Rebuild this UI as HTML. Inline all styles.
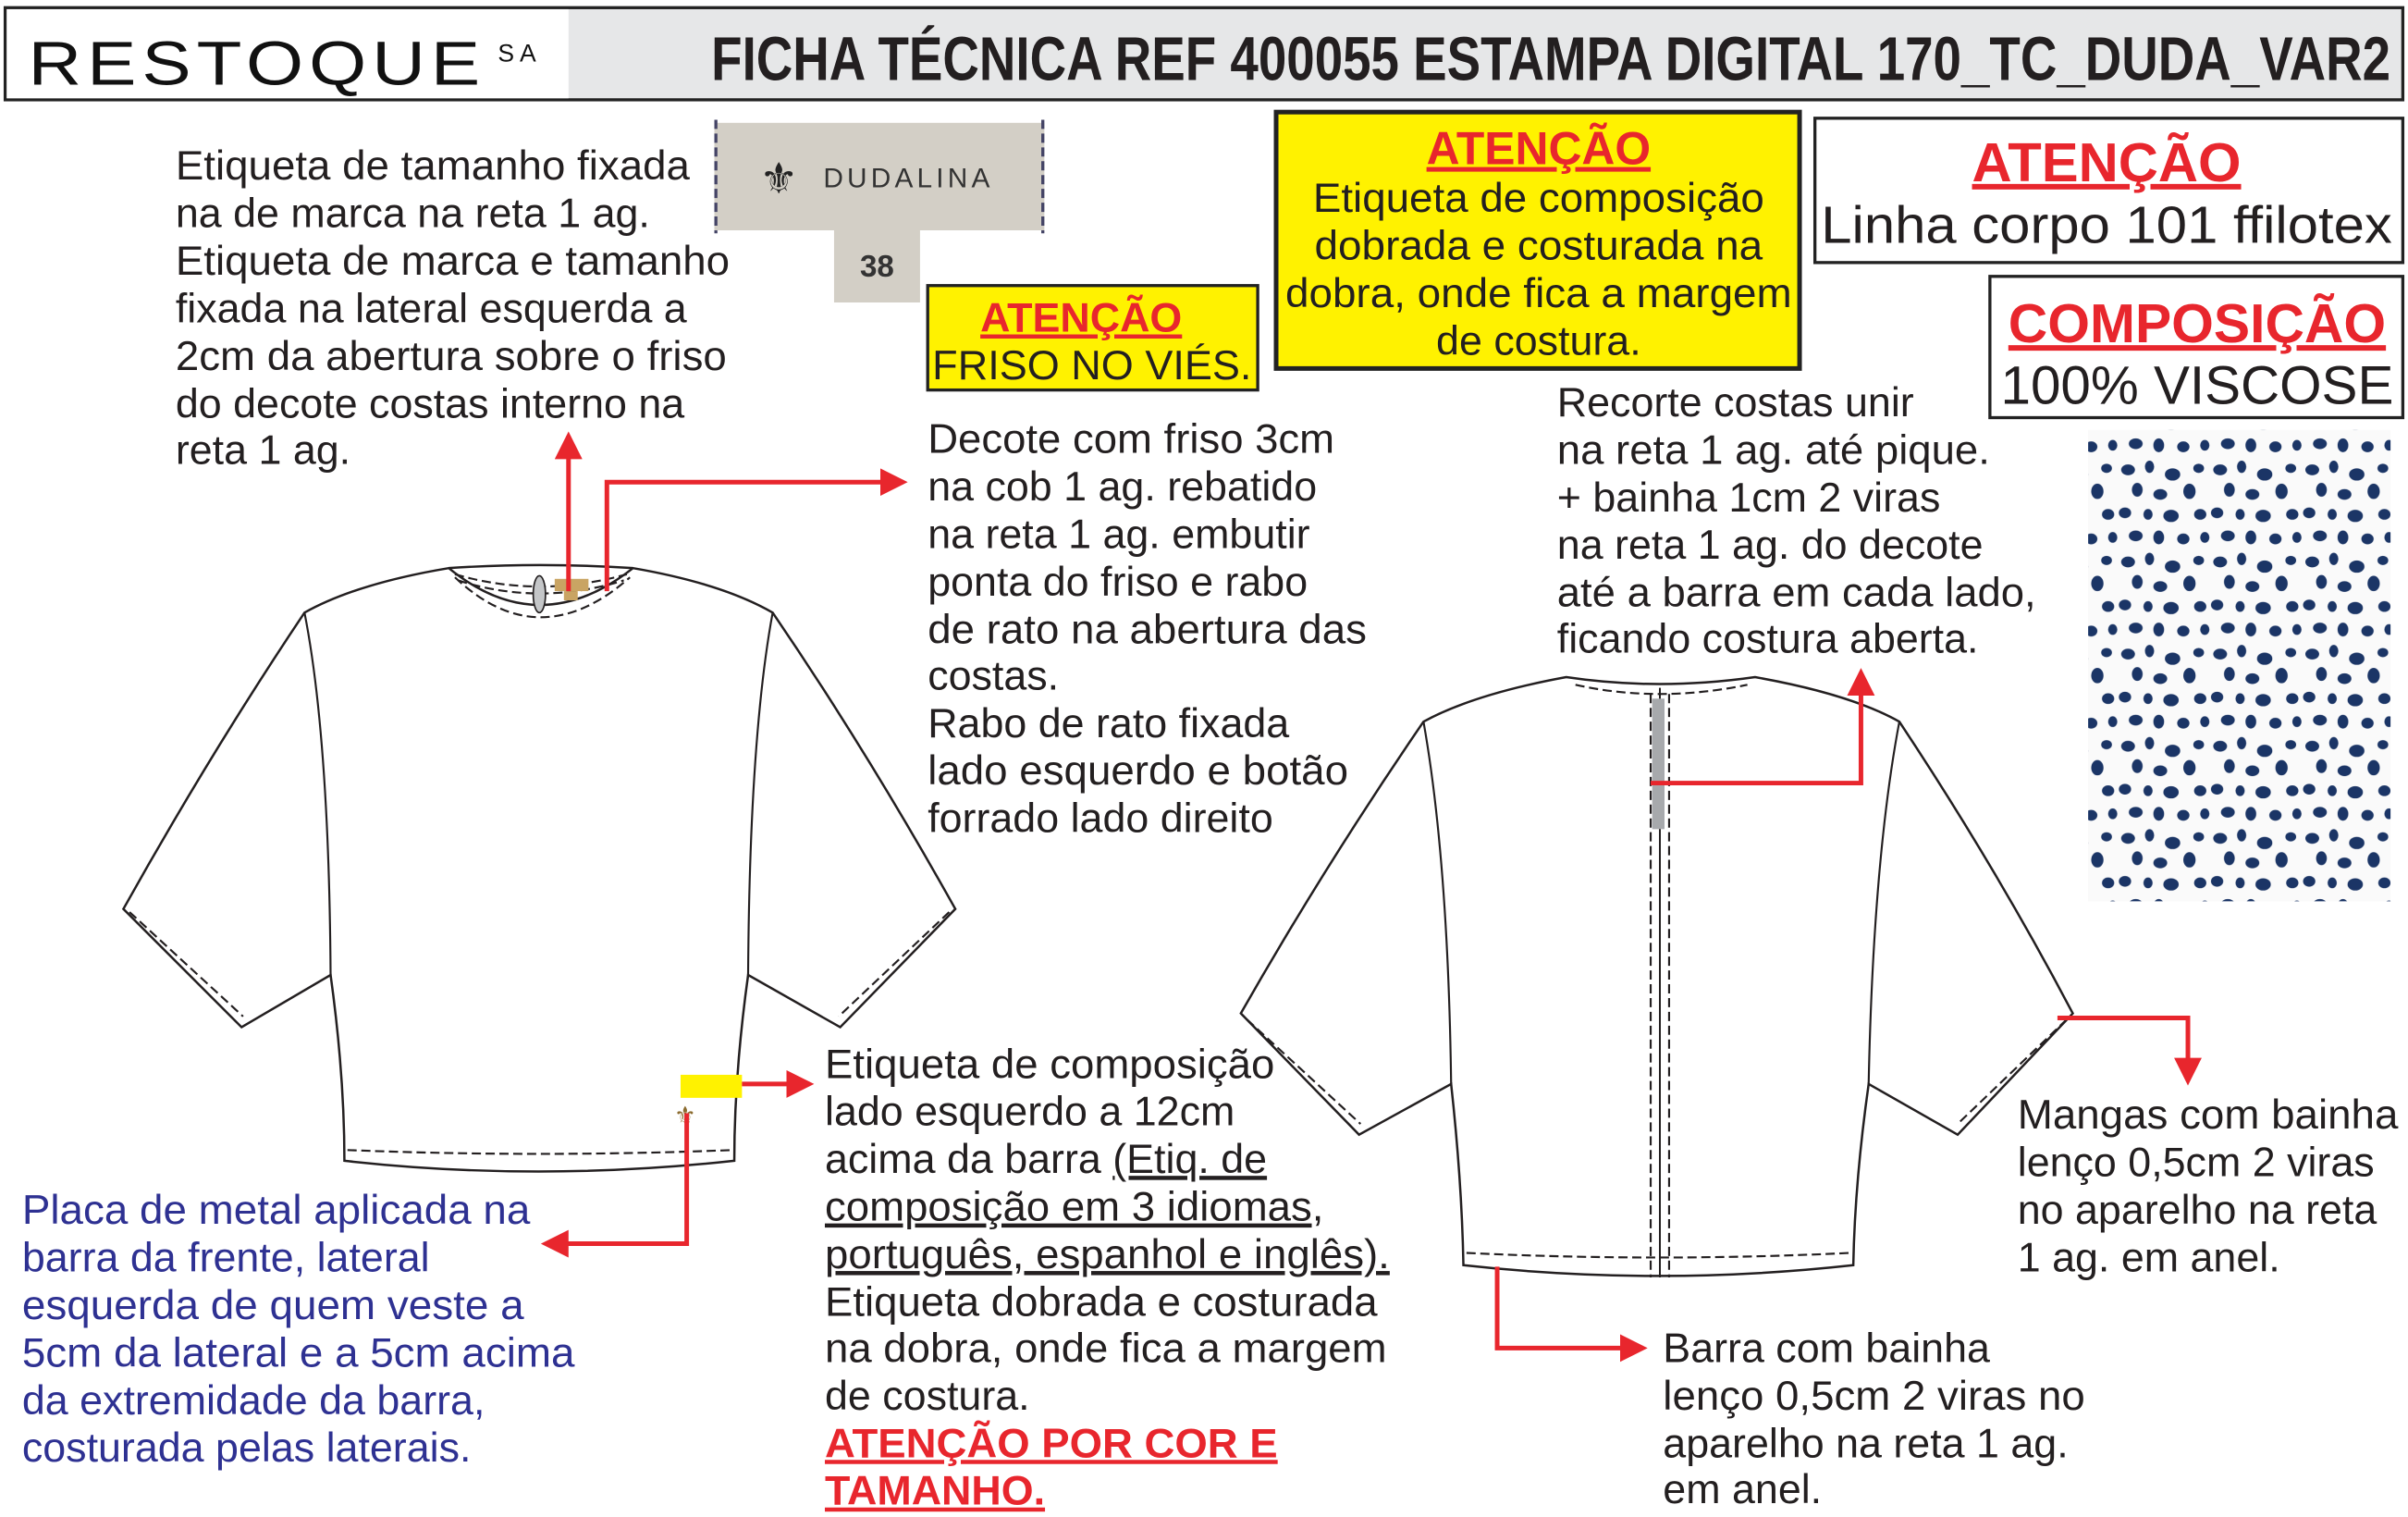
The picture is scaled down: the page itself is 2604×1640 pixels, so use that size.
<!DOCTYPE html>
<html><head><meta charset="utf-8"><style>
html,body{margin:0;padding:0;background:#fff;}
svg{display:block;}
text{font-family:"Liberation Sans",Arial,sans-serif;}
</style></head><body>
<svg width="2604" height="1640" viewBox="0 0 1568 988" xmlns="http://www.w3.org/2000/svg">
<defs>
<pattern id="dots" x="0" y="0" width="60" height="60" patternUnits="userSpaceOnUse">
<rect width="60" height="60" fill="#fafafa"/>
<g fill="#1b3566">
<ellipse cx="6" cy="6" rx="4.5" ry="3.5"/><ellipse cx="20" cy="4" rx="3" ry="4"/><ellipse cx="35" cy="9" rx="5" ry="4"/><ellipse cx="52" cy="5" rx="3.5" ry="3"/>
<ellipse cx="12" cy="19" rx="3.5" ry="4.5"/><ellipse cx="27" cy="22" rx="4.5" ry="3.5"/><ellipse cx="46" cy="20" rx="4" ry="5"/>
<ellipse cx="4" cy="34" rx="4" ry="3.5"/><ellipse cx="19" cy="35" rx="3" ry="3.5"/><ellipse cx="34" cy="36" rx="5" ry="4"/><ellipse cx="53" cy="35" rx="4" ry="3.5"/>
<ellipse cx="11" cy="49" rx="4.5" ry="3.5"/><ellipse cx="26" cy="50" rx="3.5" ry="4.5"/><ellipse cx="42" cy="51" rx="4" ry="3.5"/><ellipse cx="56" cy="50" rx="3" ry="3.5"/>
</g></pattern>
<marker id="ah" markerWidth="6" markerHeight="6" refX="5" refY="3" orient="auto" markerUnits="strokeWidth"><path d="M0,0 L6,3 L0,6 z" fill="#e8262d"/></marker>
</defs>

<!-- header -->
<rect x="3" y="5" width="1562" height="60" fill="#e6e7e8" stroke="#222" stroke-width="2"/>
<rect x="4" y="6" width="366" height="58" fill="#fff"/>
<text x="18" y="55" font-size="40" fill="#111" letter-spacing="3" textLength="298" lengthAdjust="spacingAndGlyphs">RESTOQUE</text>
<text x="324" y="40" font-size="16" fill="#111">S A</text>
<text x="463" y="52" font-size="40" font-weight="bold" fill="#231f20" textLength="1094" lengthAdjust="spacingAndGlyphs">FICHA TÉCNICA REF 400055 ESTAMPA DIGITAL 170_TC_DUDA_VAR2</text>

<!-- left text -->
<g font-size="27" fill="#231f20">
<text x="114" y="117" textLength="335" lengthAdjust="spacingAndGlyphs">Etiqueta de tamanho fixada</text>
<text x="114" y="148">na de marca na reta 1 ag.</text>
<text x="114" y="179" textLength="361" lengthAdjust="spacingAndGlyphs">Etiqueta de marca e tamanho</text>
<text x="114" y="210">fixada na lateral esquerda a</text>
<text x="114" y="241" textLength="359" lengthAdjust="spacingAndGlyphs">2cm da abertura sobre o friso</text>
<text x="114" y="272">do decote costas interno na</text>
<text x="114" y="302">reta 1 ag.</text>
</g>

<!-- dudalina label -->
<rect x="465" y="80" width="215" height="70" fill="#d3cfc6"/>
<line x1="466" y1="78" x2="466" y2="152" stroke="#444466" stroke-width="2" stroke-dasharray="6,3"/>
<line x1="679" y1="78" x2="679" y2="152" stroke="#444466" stroke-width="2" stroke-dasharray="6,3"/>
<text x="507" y="126" font-size="28" fill="#222" text-anchor="middle">⚜</text>
<text x="536" y="122" font-size="18" fill="#333" font-family="Liberation Serif,serif" letter-spacing="2.5">DUDALINA</text>
<rect x="543" y="150" width="56" height="47" fill="#d3cfc6"/>
<text x="571" y="180" font-size="20" font-weight="bold" fill="#333" text-anchor="middle">38</text>

<!-- friso box -->
<rect x="604" y="186" width="215" height="68" fill="#fff200" stroke="#222" stroke-width="2"/>
<text x="704" y="216" font-size="27" font-weight="bold" fill="#e8262d" text-anchor="middle" text-decoration="underline">ATENÇÃO</text>
<text x="711" y="247" font-size="27" fill="#231f20" text-anchor="middle" textLength="208" lengthAdjust="spacingAndGlyphs">FRISO NO VIÉS.</text>

<!-- yellow atencao -->
<rect x="831" y="73" width="341" height="167" fill="#fff200" stroke="#222" stroke-width="3"/>
<text x="1002" y="107" font-size="30" font-weight="bold" fill="#e8262d" text-anchor="middle" text-decoration="underline">ATENÇÃO</text>
<g font-size="27" fill="#231f20" text-anchor="middle">
<text x="1002" y="138" textLength="294" lengthAdjust="spacingAndGlyphs">Etiqueta de composição</text>
<text x="1002" y="169" textLength="292" lengthAdjust="spacingAndGlyphs">dobrada e costurada na</text>
<text x="1002" y="200" textLength="330" lengthAdjust="spacingAndGlyphs">dobra, onde fica a margem</text>
<text x="1002" y="231">de costura.</text>
</g>

<!-- white atencao -->
<rect x="1182" y="77" width="383" height="94" fill="#fff" stroke="#222" stroke-width="2"/>
<text x="1372" y="118" font-size="36" font-weight="bold" fill="#e8262d" text-anchor="middle" text-decoration="underline">ATENÇÃO</text>
<text x="1372" y="158" font-size="34" fill="#231f20" text-anchor="middle" textLength="372" lengthAdjust="spacingAndGlyphs">Linha corpo 101 ffilotex</text>

<!-- composicao -->
<rect x="1296" y="180" width="269" height="92" fill="#fff" stroke="#222" stroke-width="2"/>
<text x="1431" y="223" font-size="36" font-weight="bold" fill="#e8262d" text-anchor="middle" text-decoration="underline" textLength="246" lengthAdjust="spacingAndGlyphs">COMPOSIÇÃO</text>
<text x="1431" y="263" font-size="35" fill="#231f20" text-anchor="middle" textLength="256" lengthAdjust="spacingAndGlyphs">100% VISCOSE</text>

<rect x="1360" y="280" width="197" height="307" fill="url(#dots)"/>

<!-- decote text -->
<g font-size="27" fill="#231f20">
<text x="604" y="295" textLength="265" lengthAdjust="spacingAndGlyphs">Decote com friso 3cm</text>
<text x="604" y="326">na cob 1 ag. rebatido</text>
<text x="604" y="357">na reta 1 ag. embutir</text>
<text x="604" y="388">ponta do friso e rabo</text>
<text x="604" y="419" textLength="286" lengthAdjust="spacingAndGlyphs">de rato na abertura das</text>
<text x="604" y="449">costas.</text>
<text x="604" y="480">Rabo de rato fixada</text>
<text x="604" y="511" textLength="274" lengthAdjust="spacingAndGlyphs">lado esquerdo e botão</text>
<text x="604" y="542">forrado lado direito</text>
</g>

<!-- recorte text -->
<g font-size="27" fill="#231f20">
<text x="1014" y="271">Recorte costas unir</text>
<text x="1014" y="302" textLength="282" lengthAdjust="spacingAndGlyphs">na reta 1 ag. até pique.</text>
<text x="1014" y="333">+ bainha 1cm 2 viras</text>
<text x="1014" y="364">na reta 1 ag. do decote</text>
<text x="1014" y="395" textLength="312" lengthAdjust="spacingAndGlyphs">até a barra em cada lado,</text>
<text x="1014" y="425">ficando costura aberta.</text>
</g>

<!-- front garment -->
<g fill="#fff" stroke="#231f20" stroke-width="1.5">
<path d="M292,370 Q351,366 412,370 Q470,380 503,399 Q565,490 622,592 L547,669 L487,635 Q478,700 478,756 Q350,770 224,756 Q224,700 215,635 L157,669 L80,592 Q137,490 198,399 Q232,380 292,370 Z"/>
<path d="M292,370 Q351,418 412,370" fill="none"/>
</g>
<path d="M198,399 Q214,480 215,635" fill="none" stroke="#231f20" stroke-width="1.3"/>
<path d="M503,399 Q488,480 487,635" fill="none" stroke="#231f20" stroke-width="1.3"/>
<g fill="none" stroke="#231f20" stroke-width="1.3" stroke-dasharray="6,3">
<path d="M296,374 Q351,390 408,374"/>
<path d="M298,378 Q351,395 406,378"/>
<path d="M296,376 Q351,428 410,376"/>
<path d="M84,594 L158,662"/>
<path d="M618,594 L546,662"/>
<path d="M226,749 Q350,754 477,749"/>
</g>
<ellipse cx="351" cy="387" rx="4" ry="12" fill="#c4c6c8" stroke="#231f20" stroke-width="1"/>
<rect x="361" y="377" width="22" height="8" fill="#c9a463"/><rect x="367" y="385" width="9" height="6" fill="#c9a463"/>
<rect x="443" y="700" width="40" height="15" fill="#fff200"/>
<text x="446" y="732" font-size="16" fill="#8b6b2e" text-anchor="middle">⚜</text>

<!-- back garment -->
<g fill="#fff" stroke="#231f20" stroke-width="1.5">
<path d="M1020,441 Q1080,450 1143,441 Q1205,452 1237,470 Q1300,565 1350,660 L1275,739 L1217,706 Q1208,770 1207,824 Q1080,838 953,824 Q952,770 945,706 L885,739 L808,660 Q862,565 927,470 Q960,452 1020,441 Z"/>
</g>
<path d="M927,470 Q943,560 945,706" fill="none" stroke="#231f20" stroke-width="1.3"/>
<path d="M1237,470 Q1220,560 1217,706" fill="none" stroke="#231f20" stroke-width="1.3"/>
<g fill="none" stroke="#231f20" stroke-width="1.3" stroke-dasharray="6,3">
<path d="M1026,446 Q1080,458 1138,446"/>
<path d="M812,664 L886,732"/>
<path d="M1346,664 L1275,732"/>
<path d="M955,816 Q1080,822 1205,816"/>
<line x1="1075" y1="452" x2="1075" y2="832"/>
<line x1="1087" y1="452" x2="1087" y2="832"/>
</g>
<line x1="1081" y1="448" x2="1081" y2="832" stroke="#231f20" stroke-width="1.2"/>
<rect x="1076" y="455" width="8" height="85" fill="#a7a9ac"/>

<!-- arrows -->
<g fill="none" stroke="#e8262d" stroke-width="3">
<path d="M370,385 L370,284" marker-end="url(#ah)"/>
<path d="M395,385 L395,314 L588,314" marker-end="url(#ah)"/>
<path d="M483,706 L527,706" marker-end="url(#ah)"/>
<path d="M447,725 L447,810 L355,810" marker-end="url(#ah)"/>
<path d="M1075,510 L1212,510 L1212,438" marker-end="url(#ah)"/>
<path d="M975,825 L975,878 L1070,878" marker-end="url(#ah)"/>
<path d="M1340,663 L1425,663 L1425,704" marker-end="url(#ah)"/>
</g>

<!-- bottom texts -->
<g font-size="27" fill="#231f20">
<text x="537" y="702" textLength="293" lengthAdjust="spacingAndGlyphs">Etiqueta de composição</text>
<text x="537" y="733">lado esquerdo a 12cm</text>
<text x="537" y="764">acima da barra <tspan text-decoration="underline">(Etiq. de</tspan></text>
<text x="537" y="795" text-decoration="underline" textLength="325" lengthAdjust="spacingAndGlyphs">composição em 3 idiomas,</text>
<text x="537" y="826" text-decoration="underline" textLength="368" lengthAdjust="spacingAndGlyphs">português, espanhol e inglês).</text>
<text x="537" y="857" textLength="360" lengthAdjust="spacingAndGlyphs">Etiqueta dobrada e costurada</text>
<text x="537" y="887" textLength="366" lengthAdjust="spacingAndGlyphs">na dobra, onde fica a margem</text>
<text x="537" y="918">de costura.</text>
<text x="537" y="949" fill="#e8262d" font-weight="bold" text-decoration="underline" textLength="295" lengthAdjust="spacingAndGlyphs">ATENÇÃO POR COR E</text>
<text x="537" y="980" fill="#e8262d" font-weight="bold" text-decoration="underline">TAMANHO.</text>
</g>

<g font-size="27" fill="#2e3192">
<text x="14" y="797" textLength="331" lengthAdjust="spacingAndGlyphs">Placa de metal aplicada na</text>
<text x="14" y="828">barra da frente, lateral</text>
<text x="14" y="859" textLength="327" lengthAdjust="spacingAndGlyphs">esquerda de quem veste a</text>
<text x="14" y="890" textLength="360" lengthAdjust="spacingAndGlyphs">5cm da lateral e a 5cm acima</text>
<text x="14" y="921">da extremidade da barra,</text>
<text x="14" y="952">costurada pelas laterais.</text>
</g>

<g font-size="27" fill="#231f20">
<text x="1314" y="735" textLength="248" lengthAdjust="spacingAndGlyphs">Mangas com bainha</text>
<text x="1314" y="766">lenço 0,5cm 2 viras</text>
<text x="1314" y="797">no aparelho na reta</text>
<text x="1314" y="828">1 ag. em anel.</text>
<text x="1083" y="887">Barra com bainha</text>
<text x="1083" y="918" textLength="275" lengthAdjust="spacingAndGlyphs">lenço 0,5cm 2 viras no</text>
<text x="1083" y="949">aparelho na reta 1 ag.</text>
<text x="1083" y="979">em anel.</text>
</g>
</svg>
</body></html>
